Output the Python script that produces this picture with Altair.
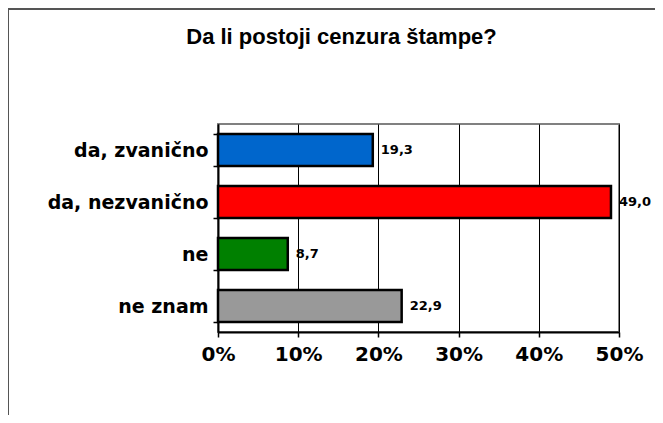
import altair as alt
import pandas as pd

categories = ["da, zvanično", "da, nezvanično", "ne", "ne znam"]
values = [19.3, 49.0, 8.7, 22.9]
labels = ["19,3", "49,0", "8,7", "22,9"]
colors = ["#0066CC", "#FF0000", "#008000", "#999999"]
x_ticks = [0, 10, 20, 30, 40, 50]

df = pd.DataFrame({"cat": categories, "val": values, "lab": labels, "col": colors})

W, H = 401, 208

y_enc = alt.Y(
    "cat:N", sort=categories, title=None,
    scale=alt.Scale(paddingInner=0.38, paddingOuter=0.19),
    axis=alt.Axis(labelFont="DejaVu Sans", labelFontWeight="bold", labelFontSize=19,
                  labelColor="black", domainColor="black", domainWidth=2,
                  tickColor="black", tickBand="extent", tickSize=5, tickWidth=1.5,
                  labelPadding=5, grid=False),
)
x_enc = alt.X(
    "val:Q", title=None, scale=alt.Scale(domain=[0, 50]),
    axis=alt.Axis(values=x_ticks, labelExpr="datum.value + '%'", labelFlush=False,
                  labelFont="DejaVu Sans", labelFontWeight="bold", labelFontSize=20,
                  labelColor="black", domainColor="black", domainWidth=2,
                  tickColor="black", tickSize=5, tickWidth=1.5, labelPadding=7,
                  grid=True, gridColor="#000000", gridWidth=1),
)

bars = alt.Chart(df).mark_bar(stroke="black", strokeWidth=2.5).encode(
    x=x_enc, y=y_enc,
    color=alt.Color("col:N", scale=None),
)

text = alt.Chart(df).mark_text(
    align="left", baseline="middle", dx=8, font="DejaVu Sans",
    fontWeight="bold", fontSize=13, color="black",
).encode(x="val:Q", y=alt.Y("cat:N", sort=categories), text="lab:N")

frame_top = alt.Chart(df).mark_rule(color="#555555", strokeWidth=2, clip=False).encode(
    x=alt.value(-210), x2=alt.value(470), y=alt.value(-115))
frame_left = alt.Chart(df).mark_rule(color="#555555", strokeWidth=2, clip=False).encode(
    x=alt.value(-210), y=alt.value(-115), y2=alt.value(320))

chart = alt.layer(frame_top, frame_left, bars, text).properties(
    width=W, height=H,
    padding={"left": 210, "top": 116, "right": 36, "bottom": 83},
    autosize=alt.AutoSizeParams(type="none"),
    title=alt.TitleParams("Da li postoji cenzura štampe?", font="Liberation Sans",
                          fontSize=22, fontWeight="bold", color="black",
                          anchor="middle", frame="group", dx=-77, offset=-41),
).configure_view(stroke="#808080", strokeWidth=2)

chart.save("out.html", embed_options={"renderer": "svg", "actions": False})
